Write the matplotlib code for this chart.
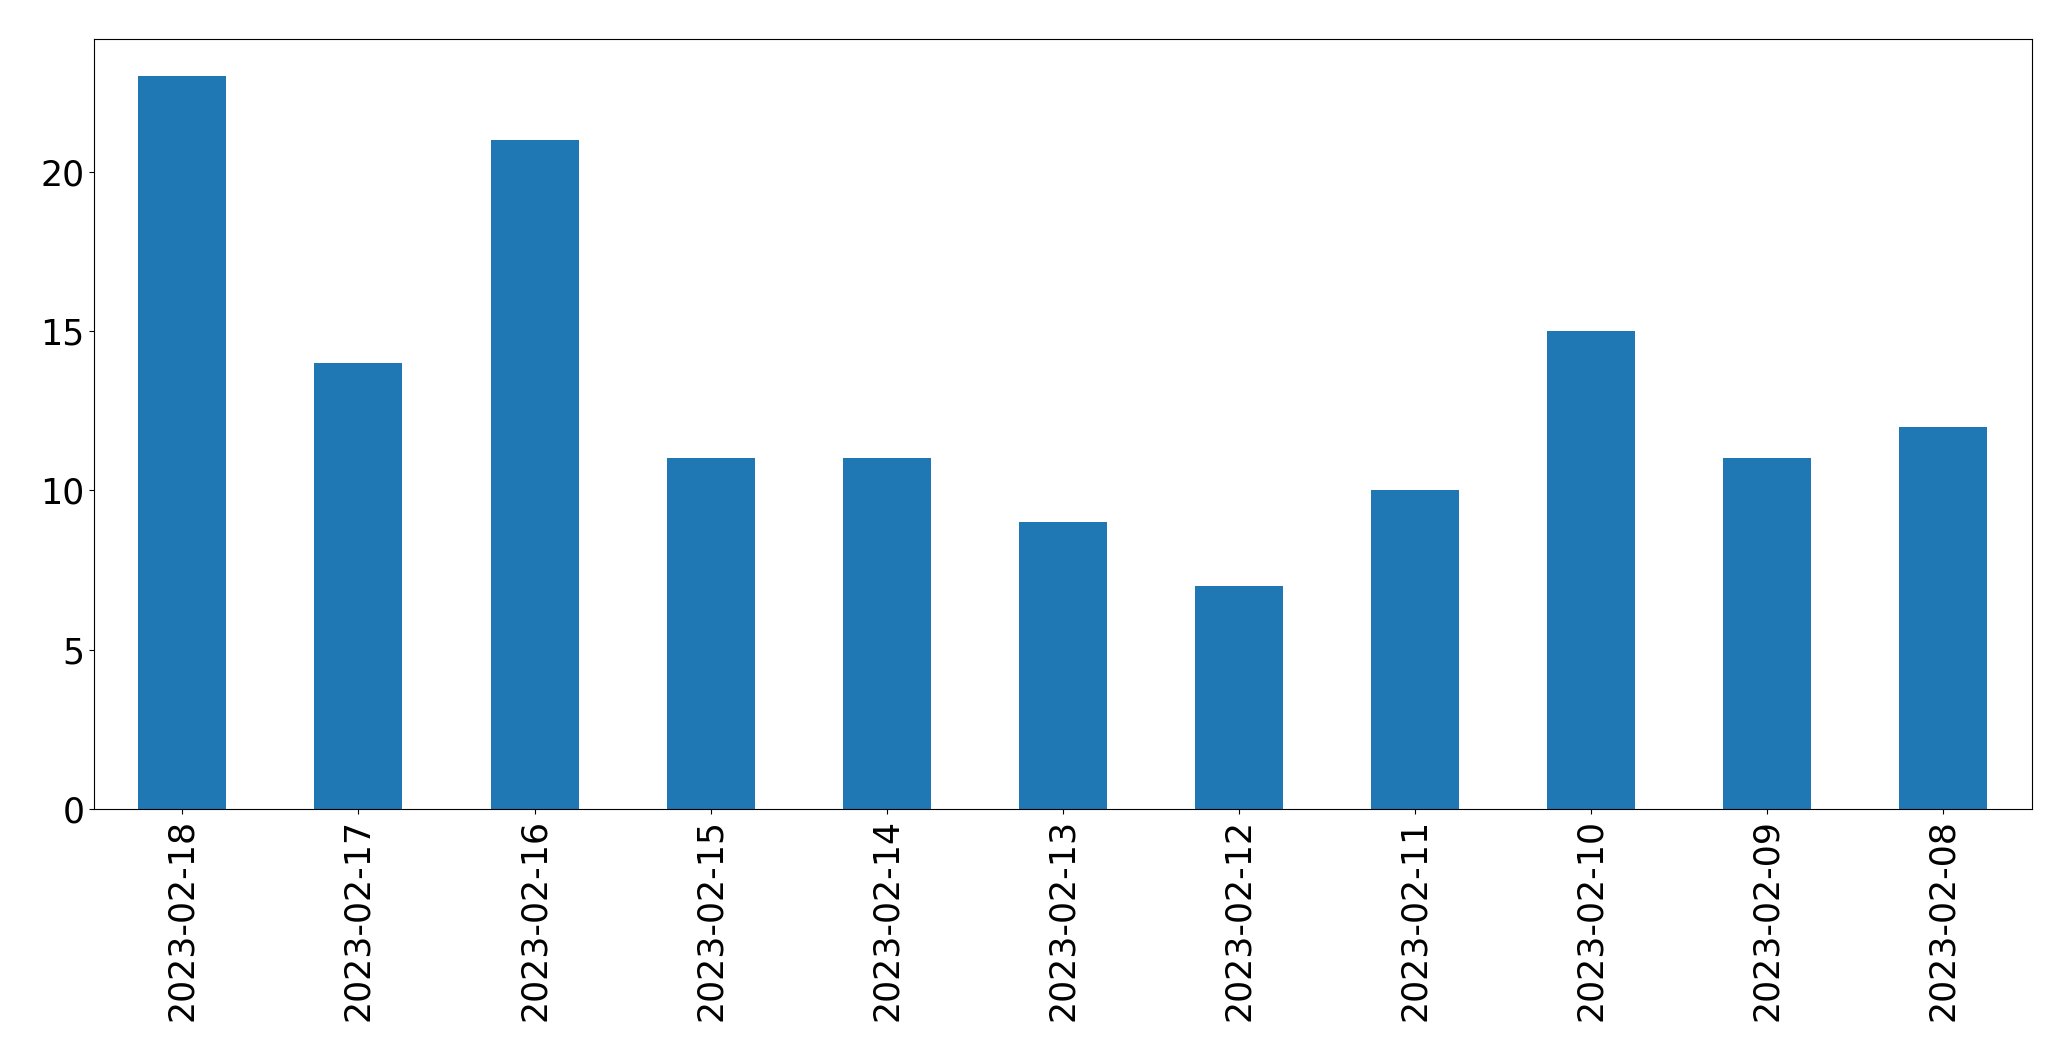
import matplotlib
matplotlib.use("Agg")
import matplotlib.pyplot as plt

# daily counts, newest first (as in the source chart)
dates = ["2023-02-18", "2023-02-17", "2023-02-16", "2023-02-15", "2023-02-14",
         "2023-02-13", "2023-02-12", "2023-02-11", "2023-02-10", "2023-02-09",
         "2023-02-08"]
counts = [23, 14, 21, 11, 11, 9, 7, 10, 15, 11, 12]

fig = plt.figure(figsize=(20.71, 10.61), dpi=100)
ax = fig.add_axes([94.3 / 2071, 1 - 809 / 1061, (2031.5 - 94.3) / 2071, (809 - 39.3) / 1061])

x = list(range(len(dates)))
ax.bar(x, counts, width=0.5, color="#1f77b4")
ax.set_xlim(-0.5, len(dates) - 0.5)
ax.set_ylim(0, max(counts) * 1.05)
ax.set_xticks(x)
ax.set_xticklabels(dates, rotation=90)
ax.set_yticks([0, 5, 10, 15, 20])
ax.tick_params(axis="both", labelsize=25)

fig.savefig("out.png", dpi=100)
